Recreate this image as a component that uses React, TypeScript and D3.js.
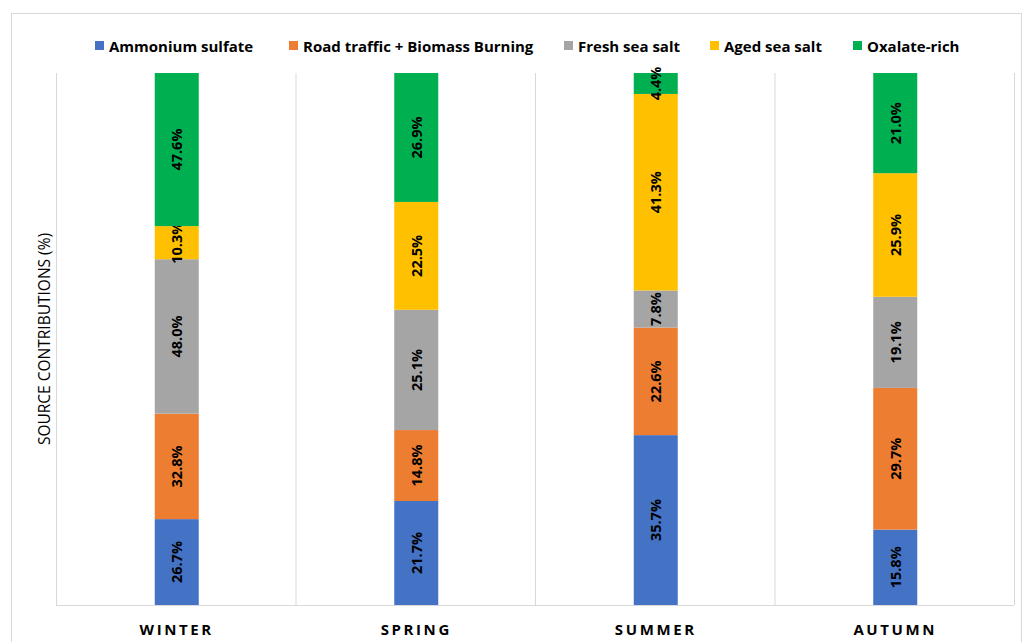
import React from "react";
import * as d3 from "d3";

const seasons = ["WINTER", "SPRING", "SUMMER", "AUTUMN"];
const sources = ["Ammonium sulfate", "Road traffic + Biomass Burning", "Fresh sea salt", "Aged sea salt", "Oxalate-rich"];
const colors = ["#4472C4", "#ED7D31", "#A5A5A5", "#FFC000", "#00B050"];
const ammoniumSulfate = [26.7, 21.7, 35.7, 15.8];
const roadTrafficBiomass = [32.8, 14.8, 22.6, 29.7];
const freshSeaSalt = [48.0, 25.1, 7.8, 19.1];
const agedSeaSalt = [10.3, 22.5, 41.3, 25.9];
const oxalateRich = [47.6, 26.9, 4.4, 21.0];
const legendX = [95, 289, 564, 710, 853];

export default function App() {
  const W = 1027, H = 642;
  const left = 56, right = 1014, top = 73, bottom = 605;
  const seriesVals = [ammoniumSulfate, roadTrafficBiomass, freshSeaSalt, agedSeaSalt, oxalateRich];
  const rows = seasons.map((s, i) => {
    const o: any = { season: s };
    sources.forEach((src, j) => (o[src] = seriesVals[j][i]));
    return o;
  });
  const stacked = d3.stack().keys(sources).offset(d3.stackOffsetExpand)(rows);
  const x = d3.scaleBand().domain(seasons).range([left, right]).paddingInner(0).paddingOuter(0);
  const y = d3.scaleLinear().domain([0, 1]).range([bottom, top]);
  const bw = 44;
  const font = "Open Sans, sans-serif";

  return (
    <svg width={W} height={H} style={{ position: "absolute", left: 0, top: 0 }}>
      <rect x={0} y={0} width={W} height={H} fill="#fff" />
      <rect x={11.5} y={13.5} width={1010} height={640} fill="none" stroke="#d9d9d9" />
      {seasons.map((s) => (
        <line key={s} x1={x(s)! + 0.5} x2={x(s)! + 0.5} y1={top} y2={bottom} stroke="#d9d9d9" />
      ))}
      <line x1={right + 0.5} x2={right + 0.5} y1={top} y2={bottom} stroke="#d9d9d9" />
      <line x1={left} x2={right} y1={bottom + 0.5} y2={bottom + 0.5} stroke="#d9d9d9" />
      {stacked.map((layer, j) =>
        layer.map((d, i) => {
          const cx = x(seasons[i])! + x.bandwidth() / 2 + 1;
          const y0 = y(d[1]);
          const y1 = y(d[0]);
          const cy = (y0 + y1) / 2;
          return (
            <g key={`${j}-${i}`}>
              <rect x={cx - bw / 2} y={y0} width={bw} height={y1 - y0} fill={colors[j]} />
              <text
                transform={`translate(${cx},${cy}) rotate(-90)`}
                textAnchor="middle"
                dominantBaseline="central"
                fontFamily={font}
                fontWeight="bold"
                fontSize={14.5}
                fill="#000"
              >
                {seriesVals[j][i].toFixed(1)}%
              </text>
            </g>
          );
        })
      )}
      {seasons.map((s) => (
        <text
          key={s}
          x={x(s)! + x.bandwidth() / 2 + 1}
          y={635}
          textAnchor="middle"
          fontFamily={font}
          fontWeight="bold"
          fontSize={15}
          letterSpacing={2.6}
          fill="#000"
        >
          {s}
        </text>
      ))}
      <text
        transform={`translate(50,339) rotate(-90)`}
        textAnchor="middle"
        fontFamily={font}
        fontSize={15.5}
        fill="#000"
      >
        SOURCE CONTRIBUTIONS (%)
      </text>
      {sources.map((src, j) => (
        <g key={src}>
          <rect x={legendX[j]} y={41} width={9} height={9} fill={colors[j]} />
          <text x={legendX[j] + 14} y={51.5} fontFamily={font} fontWeight="bold" fontSize={15} fill="#000">
            {src}
          </text>
        </g>
      ))}
    </svg>
  );
}
